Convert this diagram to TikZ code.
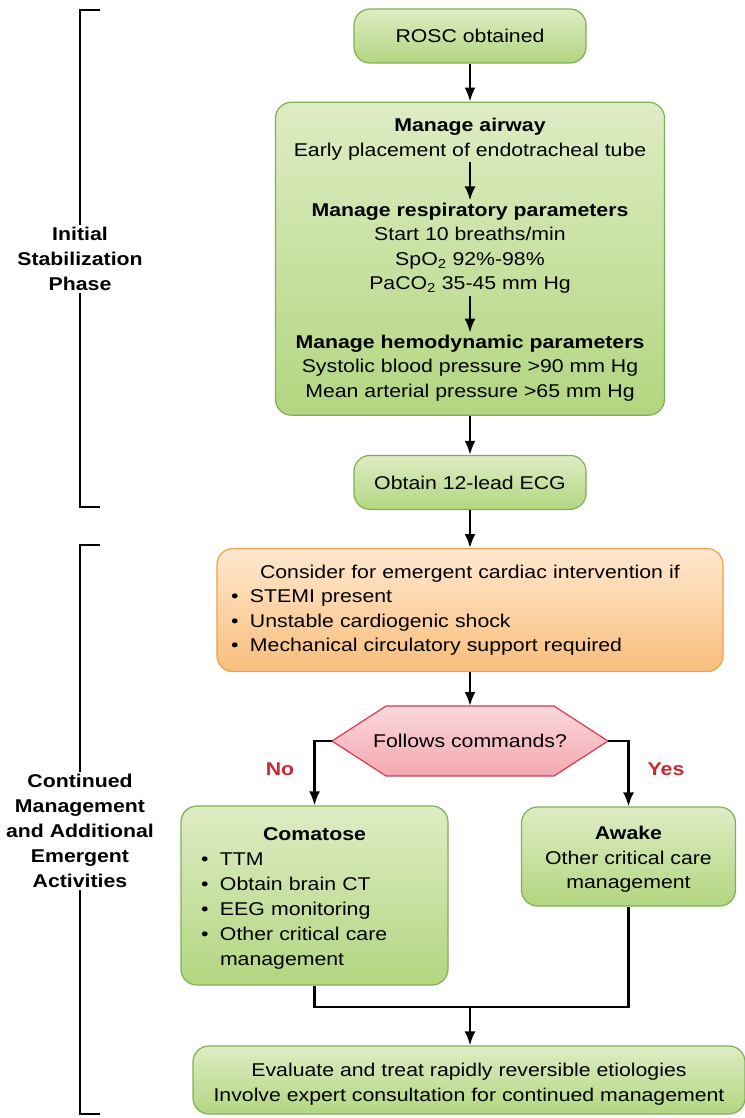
\documentclass[tikz,border=0pt]{standalone}
\usepackage{fontspec}
\setmainfont[FakeStretch=1.15]{Liberation Sans}
\usetikzlibrary{positioning, arrows.meta}

\definecolor{greentop}{RGB}{222,236,196}
\definecolor{greenbot}{RGB}{178,214,128}
\definecolor{greenline}{RGB}{128,176,86}
\definecolor{orangetop}{RGB}{255,231,206}
\definecolor{orangebot}{RGB}{249,190,124}
\definecolor{orangeline}{RGB}{236,160,72}
\definecolor{redtop}{RGB}{250,216,220}
\definecolor{redbot}{RGB}{244,168,176}
\definecolor{redline}{RGB}{218,58,80}
\definecolor{answer}{RGB}{208,38,48}

\newcommand{\itm}{\makebox[19pt][l]{\textbullet}}

\begin{document}
\begin{tikzpicture}[x=1pt,y=-1pt,node distance=38pt,>={Latex[length=14pt,width=11pt]},font=\fontsize{18.5}{24.5}\selectfont]

	\tikzstyle{goodbox}=[draw=greenline,line width=1.2pt,rounded corners=16pt,top color=greentop,bottom color=greenbot,inner sep=0pt,align=center]
	\tikzstyle{warnbox}=[draw=orangeline,line width=1.2pt,rounded corners=16pt,top color=orangetop,bottom color=orangebot,inner sep=0pt]
	\tikzstyle{decide}=[draw=redline,line width=1.2pt,top color=redtop,bottom color=redbot]
	\tikzstyle{flow}=[line width=2.4pt,black]
	\tikzstyle{brace}=[line width=2.8pt,black]
	\tikzstyle{phase}=[align=center,font=\fontsize{18.5}{25}\selectfont\bfseries,inner sep=2pt]
	\tikzstyle{answer}=[text=answer,font=\fontsize{18.5}{24.5}\selectfont\bfseries]

	\useasboundingbox (0,0) rectangle (744,1118);

	% initial stabilization
	\node[goodbox,minimum width=232pt,minimum height=54pt] (rosc) at (470,36) {ROSC obtained};
	\node[goodbox,minimum width=389pt,minimum height=313pt,below=38pt of rosc] (stab) {};
	\node[align=center,inner sep=2pt] (airway) at (470,139) {\textbf{Manage airway}\\Early placement of endotracheal tube};
	\node[align=center,inner sep=2pt] (resp) at (470,248) {\textbf{Manage respiratory parameters}\\Start 10 breaths/min\\SpO\textsubscript{2} 92\%-98\%\\PaCO\textsubscript{2} 35-45 mm Hg};
	\node[align=center,inner sep=2pt] (hemo) at (470,368) {\textbf{Manage hemodynamic parameters}\\Systolic blood pressure >90 mm Hg\\Mean arterial pressure >65 mm Hg};
	\node[goodbox,minimum width=232pt,minimum height=54pt,below=39pt of stab] (ecg) {Obtain 12-lead ECG};

	% continued management
	\node[warnbox,minimum width=506pt,minimum height=123pt,text width=478pt,inner xsep=14pt,align=left,below=38pt of ecg] (consider) {\hfill Consider for emergent cardiac intervention if\hfill\null\\\itm STEMI present\\\itm Unstable cardiogenic shock\\\itm Mechanical circulatory support required};

	\draw[decide] (332,741) -- (386,706) -- (554,706) -- (608,741) -- (554,776) -- (386,776) -- cycle;
	\coordinate (hexT) at (470,706);
	\coordinate (hexL) at (332,741);
	\coordinate (hexR) at (608,741);
	\node (follows) at (470,741) {Follows commands?};

	\node[goodbox,minimum width=267pt,minimum height=179pt,text width=227pt,inner xsep=20pt,align=left,font=\fontsize{18.5}{25}\selectfont] (coma) at (314.5,895.5) {\rule{0pt}{18pt}\hfill\textbf{Comatose}\hfill\null\\\itm TTM\\\itm Obtain brain CT\\\itm EEG monitoring\\\itm Other critical care\\\hspace*{19pt}management};
	\node[goodbox,minimum width=214pt,minimum height=99pt] (awake) at (628.5,856.5) {\rule{0pt}{19.5pt}\textbf{Awake}\\Other critical care\\management};
	\coordinate (join) at (470,1007);
	\node[goodbox,minimum width=552pt,minimum height=68pt] (evaluate) at (469,1080) {\rule{0pt}{22pt}Evaluate and treat rapidly reversible etiologies\\Involve expert consultation for continued management};

	\node[answer] (no) at (280,769) {No};
	\node[answer] (yes) at (666,769) {Yes};

	\draw[->,flow] (rosc) -- (stab);
	\draw[->,flow] (airway) -- (resp);
	\draw[->,flow] (resp) -- (hemo);
	\draw[->,flow] (stab) -- (ecg);
	\draw[->,flow] (ecg) -- (consider);
	\draw[->,flow] (consider) -- (hexT);
	\draw[->,flow] (hexL) -| (coma.north);
	\draw[->,flow] (hexR) -| (awake.north);
	\draw[flow] (coma.south) |- (join) -| (awake.south);
	\draw[->,flow] (join) -- (join |- evaluate.north);

	% phase brackets
	\node[phase] (initial) at (80,259) {Initial\\Stabilization\\Phase};
	\node[phase] (continued) at (80,831) {Continued\\Management\\and Additional\\Emergent\\Activities};
	\coordinate (initTop) at (100,10);
	\coordinate (initBot) at (100,507);
	\coordinate (contTop) at (100,545);
	\coordinate (contBot) at (100,1114);
	\draw[brace] (initial.north) |- (initTop);
	\draw[brace] (initial.south) |- (initBot);
	\draw[brace] (continued.north) |- (contTop);
	\draw[brace] (continued.south) |- (contBot);
\end{tikzpicture}
\end{document}
